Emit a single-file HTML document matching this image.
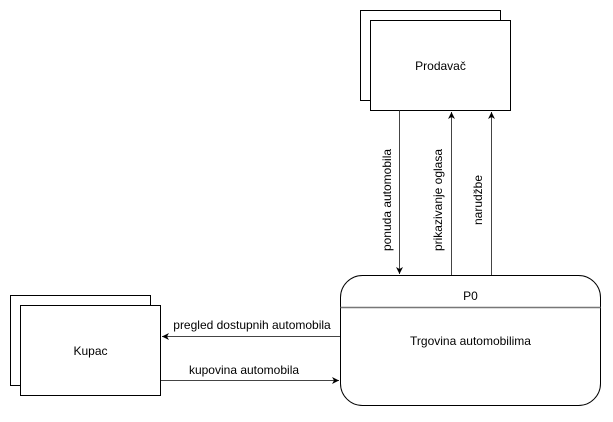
<!DOCTYPE html>
<html><head><meta charset="utf-8"><style>html,body{margin:0;padding:0;background:#fff}</style></head>
<body>
<svg width="613" height="417" viewBox="0 0 613 417" xmlns="http://www.w3.org/2000/svg" font-family="Liberation Sans, Arial, sans-serif" font-size="12">
<defs><marker id="a" markerWidth="8" markerHeight="8" refX="7" refY="4" orient="auto" markerUnits="userSpaceOnUse"><path d="M0,0.5 L7,4 L0,7.5 L2,4 Z" fill="#000"/></marker></defs>
<rect x="360.5" y="10.5" width="140" height="90" fill="#fff" stroke="#000"/>
<rect x="370.5" y="20.5" width="140" height="90" fill="#fff" stroke="#000"/>
<text x="440.5" y="70" text-anchor="middle">Prodavač</text>
<rect x="10.5" y="295.5" width="140" height="90" fill="#fff" stroke="#000"/>
<rect x="20.5" y="305.5" width="140" height="90" fill="#fff" stroke="#000"/>
<text x="90.5" y="355" text-anchor="middle">Kupac</text>
<rect x="340.5" y="275.5" width="260" height="130" rx="22" fill="#fff" stroke="#000"/>
<line x1="340.5" y1="307.5" x2="600.5" y2="307.5" stroke="#777" stroke-width="1.5"/>
<text x="470.5" y="300" text-anchor="middle">P0</text>
<text x="470.5" y="345" text-anchor="middle">Trgovina automobilima</text>
<line x1="399.5" y1="110.5" x2="399.5" y2="274" stroke="#444" marker-end="url(#a)"/>
<line x1="451.5" y1="275" x2="451.5" y2="112" stroke="#444" marker-end="url(#a)"/>
<line x1="491.5" y1="275" x2="491.5" y2="112" stroke="#444" marker-end="url(#a)"/>
<line x1="340" y1="336.5" x2="162" y2="336.5" stroke="#444" marker-end="url(#a)"/>
<line x1="161" y1="380.5" x2="339" y2="380.5" stroke="#444" marker-end="url(#a)"/>
<text transform="translate(391,200) rotate(-90)" text-anchor="middle">ponuda automobila</text>
<text transform="translate(442,200) rotate(-90)" text-anchor="middle">prikazivanje oglasa</text>
<text transform="translate(482,200) rotate(-90)" text-anchor="middle">narudžbe</text>
<text x="252" y="329" text-anchor="middle">pregled dostupnih automobila</text>
<text x="244" y="374" text-anchor="middle">kupovina automobila</text>
</svg>
</body></html>
